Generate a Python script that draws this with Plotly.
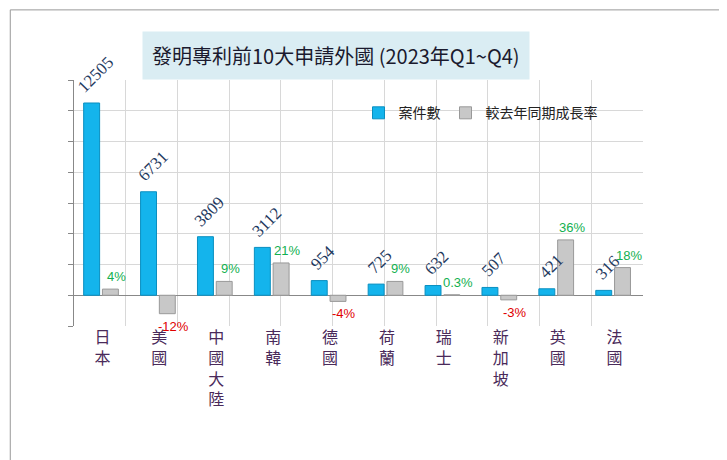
import plotly.graph_objects as go

countries = ["日本", "美國", "中國大陸", "南韓", "德國", "荷蘭", "瑞士", "新加坡", "英國", "法國"]
counts = [12505, 6731, 3809, 3112, 954, 725, 632, 507, 421, 316]
growth = [4, -12, 9, 21, -4, 9, 0.3, -3, 36, 18]
growth_labels = ["4%", "-12%", "9%", "21%", "-4%", "9%", "0.3%", "-3%", "36%", "18%"]

x = list(range(len(countries)))
fig = go.Figure()
fig.add_trace(go.Bar(x=x, y=counts, name="案件數", width=0.28, offset=-0.33,
                     marker=dict(color="#14b4ec", line=dict(color="#0a8fc0", width=1))))
fig.add_trace(go.Bar(x=x, y=growth, name="較去年同期成長率", width=0.28, offset=0.0,
                     marker=dict(color="#c8c8c8", line=dict(color="#999999", width=1)), yaxis="y2"))
fig.add_trace(go.Scatter(x=[0, 11], y=[0, 0], xaxis="x2", mode="lines", line=dict(width=0),
                         showlegend=False, hoverinfo="skip"))

ann = [dict(text="發明專利前10大申請外國 (2023年Q1~Q4)", xref="paper", yref="paper", x=0.46, y=1.2,
            showarrow=False, bgcolor="#daedf3", borderpad=9,
            font=dict(size=20, color="#1a1a2e", family="Noto Sans CJK TC"))]
for xi, c in zip(x, counts):
    ann.append(dict(x=xi - 0.19, y=c, xref="x", yref="y", text=str(c), showarrow=False, textangle=-45,
                    xanchor="center", yanchor="bottom", xshift=4, yshift=4,
                    font=dict(size=17, color="#1f3a60", family="Arial Black")))
for xi, g, t in zip(x, growth, growth_labels):
    ann.append(dict(x=xi + 0.14, y=g, xref="x", yref="y2", text=t, showarrow=False,
                    yanchor="bottom" if g >= 0 else "top", yshift=3 if g >= 0 else -3, xshift=6,
                    font=dict(size=13, color="#e00000" if g < 0 else "#12b050", family="Arial")))

fig.update_layout(
    width=727, height=460, paper_bgcolor="white", plot_bgcolor="white",
    margin=dict(l=66, r=92, t=72, b=142),
    barmode="overlay", showlegend=True,
    legend=dict(orientation="h", x=0.5, y=0.93, xanchor="left", font=dict(size=14, color="#222", family="Noto Sans CJK TC"),
                bgcolor="rgba(0,0,0,0)", itemwidth=30),
    xaxis=dict(range=[-0.5, 9.5], tickvals=x, ticktext=["<br>".join(c) for c in countries],
               tickfont=dict(size=16, color="#4a2a5a", family="Noto Sans CJK TC"), showgrid=False,
               zeroline=False, showline=False, ticks=""),
    xaxis2=dict(overlaying="x", range=[0, 11], dtick=1, showgrid=True, gridcolor="#d8d8d8",
                showticklabels=False, zeroline=False),
    yaxis=dict(range=[-2000, 14000], dtick=2000, showticklabels=False, gridcolor="#d8d8d8",
               zeroline=True, zerolinecolor="#888", zerolinewidth=1, showline=True, linecolor="#888",
               ticks="outside", ticklen=5, tickcolor="#888"),
    yaxis2=dict(overlaying="y", range=[-20, 140], showgrid=False, showticklabels=False, zeroline=False),
    shapes=[dict(type="rect", xref="paper", yref="paper", x0=-0.112, x1=1.155, y0=-0.563, y1=1.285,
                 line=dict(color="#999", width=1))],
    annotations=ann,
)
fig.write_html("out.html")
